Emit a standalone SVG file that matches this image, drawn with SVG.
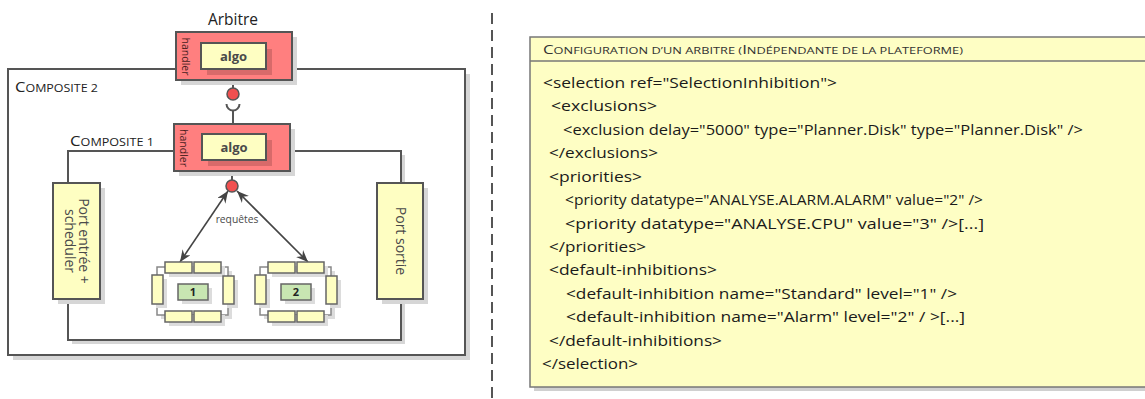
<svg xmlns="http://www.w3.org/2000/svg" width="1145" height="399" viewBox="0 0 1145 399">
<defs>
<style>
.box{stroke:#555;stroke-width:2}
.shadow{fill:#d6d6d6}
.comp{fill:#fff}
.handler{fill:#ff7f7f}
.yel{fill:#fefec2}
.inshadow{fill:#d86a6a}
.bar{fill:#fefec2;stroke:#666;stroke-width:1.5}
.barsh{fill:#dcdcdc}
.rim{fill:#fff;stroke:#888;stroke-width:1.5}
.green{fill:#c8e6b2;stroke:#666;stroke-width:1.5}
.t{font-family:"Open Sans","Liberation Sans",sans-serif}
.lbl{font-family:"Open Sans","Liberation Sans",sans-serif;fill:#4a4a4a}
.code{font-family:"Open Sans","Liberation Sans",sans-serif;font-size:15px;fill:#1a1a1a}
.line{stroke:#555;stroke-width:2;fill:none}
.arrow{stroke:#444;stroke-width:1.6;fill:none}
</style>
<marker id="ah" markerUnits="userSpaceOnUse" markerWidth="13" markerHeight="10" refX="12" refY="5" orient="auto-start-reverse">
<path d="M0,0 L12,5 L0,10 L4,5 Z" fill="#444"/>
</marker>
</defs>

<g id="composite2">
<rect class="shadow" x="13" y="74" width="457" height="286"/>
<rect class="box comp" x="8" y="69" width="457" height="286"/>
<text class="t" x="15" y="92" font-size="10.5" fill="#222" textLength="83" lengthAdjust="spacingAndGlyphs"><tspan font-size="14">C</tspan>OMPOSITE 2</text>
</g>

<g id="composite1">
<rect class="shadow" x="72" y="155" width="333" height="189"/>
<rect class="box comp" x="68" y="151" width="333" height="189"/>
<text class="t" x="70" y="146" font-size="10.5" fill="#222" textLength="84" lengthAdjust="spacingAndGlyphs"><tspan font-size="14">C</tspan>OMPOSITE 1</text>
</g>

<g id="separator">
<line x1="492" y1="13" x2="492" y2="399" stroke="#555" stroke-width="2" stroke-dasharray="11,6"/>
</g>

<g id="connectors">
<line class="line" x1="233" y1="80" x2="233" y2="88"/>
<path class="line" d="M226.5,104 A6.5,6.5 0 0 0 239.5,104"/>
<line class="line" x1="233" y1="110.5" x2="233" y2="124"/>
<line class="line" x1="232" y1="171" x2="232" y2="180"/>
<line class="arrow" x1="228" y1="191" x2="180" y2="262" marker-start="url(#ah)" marker-end="url(#ah)"/>
<line class="arrow" x1="237" y1="191" x2="308" y2="262" marker-start="url(#ah)" marker-end="url(#ah)"/>
<text class="lbl" x="237" y="223" font-size="10.3" text-anchor="middle">requêtes</text>
</g>

<g id="arbitre">
<text class="t" x="233" y="25" font-size="15.5" fill="#222" text-anchor="middle">Arbitre</text>
<rect class="shadow" x="181" y="37" width="116" height="48"/>
<rect class="box handler" x="176" y="32" width="116" height="48"/>
<rect class="inshadow" x="207" y="49" width="65" height="26"/>
<rect class="box yel" x="201" y="43" width="65" height="26"/>
<text class="lbl" x="233.5" y="60.5" font-size="13" font-weight="bold" text-anchor="middle">algo</text>
<text class="t" transform="translate(181.5,56.5) rotate(90)" font-size="10.5" fill="#4a1e1e" text-anchor="middle">handler</text>
<circle cx="233" cy="94" r="6" fill="#f05050" stroke="#555" stroke-width="1.5"/>
</g>

<g id="handler1">
<rect class="shadow" x="179" y="129" width="116" height="47"/>
<rect class="box handler" x="174" y="124" width="116" height="47"/>
<rect class="inshadow" x="208" y="140" width="64" height="26"/>
<rect class="box yel" x="202" y="134" width="64" height="26"/>
<text class="lbl" x="234" y="151.5" font-size="13" font-weight="bold" text-anchor="middle">algo</text>
<text class="t" transform="translate(179.5,148) rotate(90)" font-size="10.5" fill="#4a1e1e" text-anchor="middle">handler</text>
<circle cx="232" cy="186" r="6" fill="#f05050" stroke="#555" stroke-width="1.5"/>
</g>

<g id="port-entree">
<rect class="shadow" x="58" y="188" width="47" height="116"/>
<rect class="box yel" x="53" y="183" width="47" height="116"/>
<text class="lbl" transform="translate(78.5,241) rotate(90)" font-size="14" text-anchor="middle">Port entrée +</text>
<text class="lbl" transform="translate(64.5,241) rotate(90)" font-size="14" text-anchor="middle">scheduler</text>
</g>

<g id="port-sortie">
<rect class="shadow" x="382" y="188" width="46" height="116"/>
<rect class="box yel" x="377" y="183" width="46" height="116"/>
<text class="lbl" transform="translate(396,241) rotate(90)" font-size="14" text-anchor="middle">Port sortie</text>
</g>

<g id="component1">
<rect class="barsh" x="161" y="271" width="71" height="48"/>
<rect class="rim" x="157" y="267" width="71" height="48"/>
<rect class="barsh" x="169" y="266" width="56" height="11"/>
<rect class="barsh" x="169" y="315" width="56" height="11"/>
<rect class="barsh" x="156" y="279" width="11" height="29"/>
<rect class="barsh" x="227" y="280" width="11" height="28"/>
<rect class="bar" x="165" y="262" width="27" height="11"/>
<rect class="bar" x="194" y="262" width="27" height="11"/>
<rect class="bar" x="165" y="311" width="27" height="11"/>
<rect class="bar" x="194" y="311" width="27" height="11"/>
<rect class="bar" x="152" y="275" width="11" height="29"/>
<rect class="bar" x="223" y="276" width="11" height="28"/>
<rect class="barsh" x="182" y="288" width="30" height="16"/>
<rect class="green" x="178" y="284" width="30" height="16"/>
<text class="t" x="193" y="296" font-size="11" font-weight="bold" fill="#222" text-anchor="middle">1</text>
</g>

<g id="component2" transform="translate(103,0)">
<rect class="barsh" x="161" y="271" width="71" height="48"/>
<rect class="rim" x="157" y="267" width="71" height="48"/>
<rect class="barsh" x="169" y="266" width="56" height="11"/>
<rect class="barsh" x="169" y="315" width="56" height="11"/>
<rect class="barsh" x="156" y="279" width="11" height="29"/>
<rect class="barsh" x="227" y="280" width="11" height="28"/>
<rect class="bar" x="165" y="262" width="27" height="11"/>
<rect class="bar" x="194" y="262" width="27" height="11"/>
<rect class="bar" x="165" y="311" width="27" height="11"/>
<rect class="bar" x="194" y="311" width="27" height="11"/>
<rect class="bar" x="152" y="275" width="11" height="29"/>
<rect class="bar" x="223" y="276" width="11" height="28"/>
<rect class="barsh" x="182" y="288" width="30" height="16"/>
<rect class="green" x="178" y="284" width="30" height="16"/>
<text class="t" x="193" y="296" font-size="11" font-weight="bold" fill="#222" text-anchor="middle">2</text>
</g>

<g id="configuration">
<rect fill="#d0d0d0" x="534" y="41" width="620" height="350"/>
<rect fill="#fefec4" stroke="#777" stroke-width="1.5" x="530" y="37" width="620" height="350"/>
<line x1="530" y1="61" x2="1150" y2="61" stroke="#777" stroke-width="1.5"/>
<text class="t" x="543" y="54" font-size="9.5" fill="#333" textLength="420" lengthAdjust="spacingAndGlyphs"><tspan font-size="12.5">C</tspan>ONFIGURATION D’UN ARBITRE (<tspan font-size="12.5">I</tspan>NDÉPENDANTE DE LA PLATEFORME)</text>
<text class="code" x="543" y="88" textLength="294" lengthAdjust="spacingAndGlyphs">&lt;selection ref="SelectionInhibition"&gt;</text>
<text class="code" x="551" y="111.4" textLength="106" lengthAdjust="spacingAndGlyphs">&lt;exclusions&gt;</text>
<text class="code" x="563" y="134.8" textLength="520" lengthAdjust="spacingAndGlyphs">&lt;exclusion delay="5000" type="Planner.Disk" type="Planner.Disk" /&gt;</text>
<text class="code" x="549" y="158.3" textLength="109" lengthAdjust="spacingAndGlyphs">&lt;/exclusions&gt;</text>
<text class="code" x="549" y="181.7" textLength="93" lengthAdjust="spacingAndGlyphs">&lt;priorities&gt;</text>
<text class="code" x="565" y="205.1" textLength="418" lengthAdjust="spacingAndGlyphs">&lt;priority datatype="ANALYSE.ALARM.ALARM" value="2" /&gt;</text>
<text class="code" x="565" y="228.5" textLength="419" lengthAdjust="spacingAndGlyphs">&lt;priority datatype="ANALYSE.CPU" value="3" /&gt;[...]</text>
<text class="code" x="549" y="251.9" textLength="97" lengthAdjust="spacingAndGlyphs">&lt;/priorities&gt;</text>
<text class="code" x="549" y="275.4" textLength="168" lengthAdjust="spacingAndGlyphs">&lt;default-inhibitions&gt;</text>
<text class="code" x="566" y="298.8" textLength="391" lengthAdjust="spacingAndGlyphs">&lt;default-inhibition name="Standard" level="1" /&gt;</text>
<text class="code" x="566" y="322.2" textLength="399" lengthAdjust="spacingAndGlyphs">&lt;default-inhibition name="Alarm" level="2" / &gt;[...]</text>
<text class="code" x="549" y="345.6" textLength="173" lengthAdjust="spacingAndGlyphs">&lt;/default-inhibitions&gt;</text>
<text class="code" x="542" y="369" textLength="96" lengthAdjust="spacingAndGlyphs">&lt;/selection&gt;</text>
</g>
</svg>
